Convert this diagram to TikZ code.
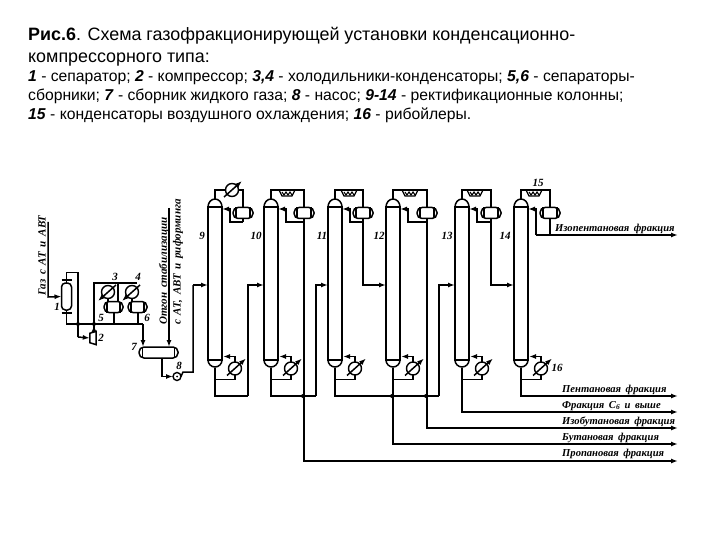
\documentclass[tikz,border=0pt]{standalone}
\usepackage{fontspec}
\setmainfont{Liberation Sans}
\newfontfamily\lblfont[WordSpace=1.7]{Liberation Serif}
\usetikzlibrary{arrows.meta,calc}
\tikzset{
  pipe/.style={line width=1.5pt,line join=miter,line cap=butt},
  flow/.style={pipe,-{Latex[length=7pt,width=5pt]}},
  wall/.style={line width=1.5pt,fill=white},
  colbody/.style={draw,line width=1.6pt,fill=white,minimum width=14pt,minimum height=153pt,inner sep=0pt,outer sep=0pt},
  cooler/.style={circle,draw,line width=1.4pt,fill=white,minimum size=13pt,inner sep=0pt,outer sep=0pt},
  drumbox/.style={draw,line width=1.5pt,fill=white,rounded corners=5pt,minimum width=20pt,minimum height=11pt,inner sep=0pt,outer sep=0pt},
  sepbox/.style={draw,line width=1.5pt,fill=white,rounded corners=4pt,minimum width=10pt,minimum height=27pt,inner sep=0pt,outer sep=0pt},
  aircool/.style={inner sep=0pt,outer sep=0pt,minimum width=15pt,minimum height=6pt},
  pumpc/.style={circle,draw,line width=1.4pt,fill=white,minimum size=8pt,inner sep=0pt,outer sep=0pt},
  dot/.style={circle,fill=black,minimum size=4pt,inner sep=0pt,outer sep=0pt},
  title/.style={anchor=base west,inner sep=0pt,font=\fontsize{17.9}{20}\selectfont},
  legend/.style={anchor=base west,inner sep=0pt,font=\fontsize{15.7}{18}\selectfont},
  num/.style={inner sep=0pt,font=\lblfont\bfseries\itshape\fontsize{11}{12}\selectfont},
  flab/.style={anchor=base west,inner sep=0pt,font=\lblfont\bfseries\itshape\fontsize{10.6}{12}\selectfont},
  vlab/.style={rotate=90,anchor=west,inner sep=0pt,font=\lblfont\bfseries\itshape\fontsize{11}{12}\selectfont}
}
% column body with domes: #1 id, #2 centre x
\newcommand{\colm}[2]{
  \node[colbody] (c#1) at (#2,283.5) {};
  \draw[wall] (c#1.north west) arc[start angle=180,end angle=0,x radius=7pt,y radius=8pt] -- cycle;
  \draw[wall] (c#1.south west) arc[start angle=180,end angle=360,x radius=7pt,y radius=7pt] -- cycle;
  \coordinate (ct#1) at (#2,199);
  \coordinate (cb#1) at (#2,367.5);
}
% reboiler: #1 id, #2 centre x of the column
\newcommand{\rebo}[2]{
  \node[cooler] (r#1) at ($(#2,368.5)+(20,0)$) {};
  \draw[pipe] (cb#1) -- ++(0,12) -| (r#1.south);
  \draw[flow] (r#1.north) |- ($(#2,356.5)+(8,0)$);
  \draw[flow] ([shift={(-8,7)}]r#1.center) -- ([shift={(11,-10)}]r#1.center);
}
% drum: #1 id, #2 x of the line through it
\newcommand{\drumv}[2]{
  \node[drumbox] (d#1) at (#2,213) {};
  \draw[pipe] ([xshift=3pt]d#1.north west) -- ([xshift=3pt]d#1.south west);
  \draw[pipe] ([xshift=-3pt]d#1.north east) -- ([xshift=-3pt]d#1.south east);
}
% air cooler
\newcommand{\airc}[2]{
  \node[aircool] (a#1) at (#2,193) {};
  \draw[line width=1.2pt,fill=white] ($(a#1.center)+(-8,-3)$) -- ++(16,0) -- ++(-3,6) -- ++(-10,0) -- cycle;
  \draw[line width=1.1pt] ($(a#1.center)+(-5,-1)$) -- ++(2,3) -- ++(2,-3) -- ++(2,3) -- ++(2,-3) -- ++(2,3);
  \coordinate (at#1) at (#2,190);
}
% reflux return into the column: #1 id, #2 col x, #3 drum x
\newcommand{\refl}[3]{
  \coordinate (rb#1) at (#2+15,222);
  \coordinate (rt#1) at (#2+7,209);
  \draw[flow] (#3,222) -- (rb#1) -- (#2+15,209) -- (rt#1);
}
\begin{document}
\begin{tikzpicture}[x=1pt,y=-1pt]
\useasboundingbox (0,0) rectangle (720,540);
\fill[white] (0,0) rectangle (720,540);
% Text
\node[title] (t1) at (28,41) {\textbf{Рис.6}. Схема газофракционирующей установки конденсационно-};
\node[title] (t2) at (28,63) {компрессорного типа:};
\node[legend] (l1) at (28,82) {\textbf{\textit{1}} - сепаратор; \textbf{\textit{2}} - компрессор; \textbf{\textit{3,4}} - холодильники-конденсаторы; \textbf{\textit{5,6}} - сепараторы-};
\node[legend] (l2) at (28,101) {сборники; \textbf{\textit{7}} - сборник жидкого газа; \textbf{\textit{8}} - насос; \textbf{\textit{9-14}} - ректификационные колонны;};
\node[legend] (l3) at (28,120) {\textbf{\textit{15}} - конденсаторы воздушного охлаждения; \textbf{\textit{16}} - рибойлеры.};

% Columns
\colm{9}{215}\colm{10}{271}\colm{11}{335}\colm{12}{393}\colm{13}{462}\colm{14}{521}
\rebo{9}{215}\rebo{10}{271}\rebo{11}{335}\rebo{12}{393}\rebo{13}{462}\rebo{14}{521}

% Overhead of column 9
\node[cooler] (o9) at (232,190) {};
\draw[pipe] (ct9) |- (o9.west);
\draw[flow] ([shift={(-8,7)}]o9.center) -- ([shift={(10,-9)}]o9.center);
\draw[pipe] (o9.east) -- (243,190) -- (243,208);
\drumv{9}{243}
\refl{9}{215}{243}
\draw[pipe] (243,222) -- (243,218);

% Overhead of columns 10-14
\airc{10}{287}\airc{11}{349}\airc{12}{410}\airc{13}{475}\airc{14}{534}
\draw[pipe] (ct10) |- (at10) -- (304,190) -- (304,208);
\draw[pipe] (ct11) |- (at11) -- (363,190) -- (363,208);
\draw[pipe] (ct12) |- (at12) -- (427,190) -- (427,208);
\draw[pipe] (ct13) |- (at13) -- (491,190) -- (491,208);
\draw[pipe] (ct14) |- (at14) -- (550,190) -- (550,208);
\drumv{10}{304}\drumv{11}{363}\drumv{12}{427}\drumv{13}{491}\drumv{14}{550}
\refl{10}{271}{304}\refl{11}{335}{363}\refl{12}{393}{427}\refl{13}{462}{491}
\coordinate (rb14) at (536,235);
\draw[flow] (rb14) -- (536,209) -- (528,209);
\node[num] (n15) at (538,183) {15};

% Feeds between columns
\draw[pipe] (cb9) |- (248,396);
\draw[flow] (248,396) -- (248,285) -- (c10.west |- 0,285);
\draw[pipe] (cb10) |- (316,396);
\draw[flow] (316,396) -- (316,285) -- (c11.west |- 0,285);
\draw[flow] (d11.south) -- (363,285) -- (c12.west |- 0,285);
\draw[pipe] (cb11) |- (439,396);
\draw[flow] (439,396) -- (439,285) -- (c13.west |- 0,285);
\draw[flow] (d13.south) -- (491,285) -- (c14.west |- 0,285);

% Product lines
\coordinate (e1) at (678,235);\coordinate (e2) at (678,396);\coordinate (e3) at (678,412);
\coordinate (e4) at (678,428);\coordinate (e5) at (678,444);\coordinate (e6) at (678,461);
\draw[pipe] (d14.south) -- (550,235);
\draw[flow] (rb14) -- (e1);
\draw[flow] (cb14) |- (e2);
\draw[flow] (cb13) |- (e3);
\draw[flow] (d12.south) |- (e4);
\draw[flow] (cb12) |- (e5);
\draw[flow] (d10.south) |- (e6);
\node[dot] (j1) at (303,396) {};
\node[dot] (j2) at (392,396) {};
\node[dot] (j3) at (426,396) {};

% Left part: separator 1
\node[sepbox] (s1) at (66.5,296.5) {};
\draw[pipe] ([yshift=3pt]s1.north west) -- ([yshift=3pt]s1.north east);
\draw[pipe] ([yshift=-3pt]s1.south west) -- ([yshift=-3pt]s1.south east);
\coordinate (g0) at (48,222);
\draw[flow] (g0) -- (48,297) -- (s1.west);
\draw[pipe] (s1.north) -- (66.5,272.5) -- (78,272.5) -- (78,337);
% compressor
\node[inner sep=0pt,minimum width=6pt,minimum height=13pt] (k2) at (93,338) {};
\draw[wall] ([yshift=-2pt]k2.north west) -- (k2.north east) -- (k2.south east) -- ([yshift=2pt]k2.south west) -- cycle;
\draw[flow] (78,337) -- (k2.west);
% line under the separators
\draw[pipe] (s1.south) |- (143,324);
\draw[pipe] (94,331) -- (94,283) -- (137,283);
\draw[flow] (94,332) -- (94,325);
% coolers 3, 4 and separators 5, 6
\node[drumbox,minimum width=19pt] (s5) at (113.5,307) {};
\node[drumbox,minimum width=19pt] (s6) at (137.5,307) {};
\foreach \n in {s5,s6}{
  \draw[pipe] ([xshift=3pt]\n.north west) -- ([xshift=3pt]\n.south west);
  \draw[pipe] ([xshift=-3pt]\n.north east) -- ([xshift=-3pt]\n.south east);
}
\node[cooler] (c3) at (108,292) {};
\node[cooler] (c4) at (132,292) {};
\draw[pipe] (118,283) -- (118,302);
\draw[pipe] (c3.south) -- (108,302);
\draw[pipe] (c4.south) -- (132,302);
\draw[flow] ([shift={(8,-7)}]c3.center) -- ([shift={(-10,9)}]c3.center);
\draw[flow] ([shift={(8,-7)}]c4.center) -- ([shift={(-10,9)}]c4.center);
\draw[pipe] (114,312) -- (114,324);
\draw[pipe] (138,312) -- (138,324);
\node[dot] (j4) at (78,324) {};
\node[dot] (j5) at (94,324) {};
% drum 7
\node[drumbox,minimum width=39pt] (d7) at (158.5,352.5) {};
\draw[pipe] ([xshift=3.5pt]d7.north west) -- ([xshift=3.5pt]d7.south west);
\draw[pipe] ([xshift=-3.5pt]d7.north east) -- ([xshift=-3.5pt]d7.south east);
\draw[flow] (143,324) -- (143,347);
\coordinate (g1) at (169,208);
\draw[flow] (g1) -- (169,347);
% pump 8
\node[pumpc] (p8) at (177,376.5) {};
\fill (p8.center) circle (1pt);
\draw[flow] (162,357.5) |- (p8.west);
\draw[pipe] (p8.east) -- ++(2,-4.5) -- (193,372) -- (193,285);
\draw[flow] (193,285) -- (c9.west |- 0,285);

% Numbers
\node[num] (n1) at (57,307) {1};
\node[num] (n2) at (101,338) {2};
\node[num] (n3) at (115,277) {3};
\node[num] (n4) at (138,277) {4};
\node[num] (n5) at (101,318) {5};
\node[num] (n6) at (147,318) {6};
\node[num] (n7) at (134,347) {7};
\node[num] (n8) at (179,366) {8};
\node[num] (n9) at (202,236) {9};
\node[num] (n10) at (256,236) {10};
\node[num] (n11) at (322,236) {11};
\node[num] (n12) at (379,236) {12};
\node[num] (n13) at (447,236) {13};
\node[num] (n14) at (505,236) {14};
\node[num] (n16) at (557,368) {16};

% Vertical labels
\node[vlab] (v1) at (42,296) {Газ с АТ и АВТ};
\node[vlab] (v2) at (164,325) {Отгон стабилизации};
\node[vlab] (v3) at (178,325) {с АТ, АВТ и риформинга};

% Fraction labels
\node[flab] (f1) at (555,231) {Изопентановая фракция};
\node[flab] (f2) at (562,392) {Пентановая фракция};
\node[flab] (f3) at (562,408) {Фракция С\textsubscript{6} и выше};
\node[flab] (f4) at (562,424) {Изобутановая фракция};
\node[flab] (f5) at (562,440) {Бутановая фракция};
\node[flab] (f6) at (562,456) {Пропановая фракция};
\end{tikzpicture}
\end{document}
